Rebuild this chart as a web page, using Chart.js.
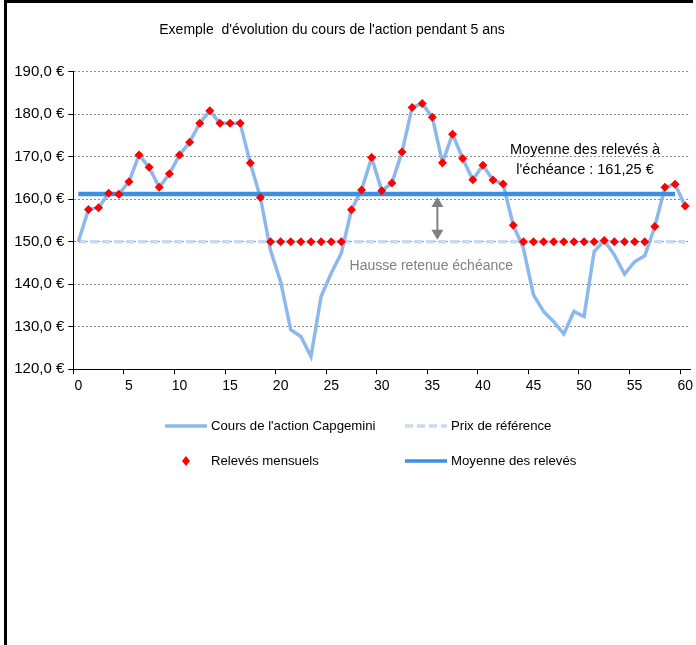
<!DOCTYPE html>
<html lang="fr">
<head>
<meta charset="utf-8">
<script src="https://cdn.jsdelivr.net/npm/chart.js@4.4.1/dist/chart.umd.min.js"></script>
<style>
  body { margin: 0; background: #fff; }
  canvas { position: absolute; left: 0; top: 0; }
  #cadre { position: absolute; left: 4px; top: 0; width: 689px; height: 645px;
           border-top: 3px solid #000; border-left: 3px solid #000;
           box-sizing: border-box; pointer-events: none; }
</style>
</head>
<body>
<canvas id="graphe" width="696" height="645"></canvas>
<div id="cadre"></div>
<script>
// mois 0 a 60
let mois = [0, 1, 2, 3, 4, 5, 6, 7, 8, 9, 10, 11, 12, 13, 14, 15, 16, 17, 18, 19, 20,
            21, 22, 23, 24, 25, 26, 27, 28, 29, 30, 31, 32, 33, 34, 35, 36, 37, 38, 39, 40,
            41, 42, 43, 44, 45, 46, 47, 48, 49, 50, 51, 52, 53, 54, 55, 56, 57, 58, 59, 60];

let cours = [150.0, 157.6, 158.0, 161.4, 161.2, 164.1, 170.4, 167.5, 162.8, 166.0, 170.4,
             173.4, 177.9, 180.8, 177.9, 177.9, 177.9, 168.5, 160.4, 148.0, 140.6,
             129.3, 127.7, 123.0, 137.1, 142.6, 147.3, 157.5, 162.2, 169.8, 162.0,
             163.8, 171.1, 181.6, 182.5, 179.3, 168.6, 175.3, 169.6, 164.6, 168.0,
             164.5, 163.6, 153.9, 148.5, 137.5, 133.6, 131.2, 128.3, 133.6, 132.4,
             147.7, 150.3, 146.9, 142.4, 145.3, 146.7, 153.6, 162.8, 163.5, 158.4];

// releves mensuels (mois 1 a 60), planches a 150
let releves = [null, 157.6, 158.0, 161.4, 161.2, 164.1, 170.4, 167.5, 162.8, 166.0, 170.4,
               173.4, 177.9, 180.8, 177.9, 177.9, 177.9, 168.5, 160.4, 150.0, 150.0,
               150.0, 150.0, 150.0, 150.0, 150.0, 150.0, 157.5, 162.2, 169.8, 162.0,
               163.8, 171.1, 181.6, 182.5, 179.3, 168.6, 175.3, 169.6, 164.6, 168.0,
               164.5, 163.6, 153.9, 150.0, 150.0, 150.0, 150.0, 150.0, 150.0, 150.0,
               150.0, 150.3, 150.0, 150.0, 150.0, 150.0, 153.6, 162.8, 163.5, 158.4];

let prixReference = 150;
let moyenneReleves = 161.25;
let finMoyenne = 59;

const police = "Arial, 'Liberation Sans', sans-serif";
Chart.defaults.font.family = police;
Chart.defaults.font.size = 14;
Chart.defaults.color = '#000';

const decor = {
  id: 'decor',
  afterDraw(chart) {
    const ctx = chart.ctx;
    const x = chart.scales.x, y = chart.scales.y;
    ctx.save();
    ctx.textBaseline = 'middle';
    ctx.textAlign = 'center';
    ctx.font = '14px ' + police;
    ctx.fillStyle = '#000';
    ctx.fillText("Exemple  d'évolution du cours de l'action pendant 5 ans", 332, 30);

    // texte moyenne
    ctx.font = '14.5px ' + police;
    ctx.fillText('Moyenne des relevés à', x.getPixelForValue(50.1), y.getPixelForValue(171.6));
    ctx.fillText("l'échéance : 161,25 €", x.getPixelForValue(50.1), y.getPixelForValue(166.9));

    ctx.font = '14px ' + police;
    ctx.fillStyle = '#808080';
    ctx.fillText('Hausse retenue échéance', x.getPixelForValue(34.9), y.getPixelForValue(144.3));

    // fleche double
    const xa = x.getPixelForValue(35.5);
    const yh = y.getPixelForValue(moyenneReleves) + 3;
    const yb = y.getPixelForValue(prixReference) - 2;
    ctx.strokeStyle = '#808080';
    ctx.lineWidth = 2;
    ctx.beginPath();
    ctx.moveTo(xa, yh + 8);
    ctx.lineTo(xa, yb - 8);
    ctx.stroke();
    ctx.beginPath();
    ctx.moveTo(xa, yh); ctx.lineTo(xa - 6, yh + 10); ctx.lineTo(xa + 6, yh + 10); ctx.closePath();
    ctx.moveTo(xa, yb); ctx.lineTo(xa - 6, yb - 10); ctx.lineTo(xa + 6, yb - 10); ctx.closePath();
    ctx.fill();

    // legende 2 x 2
    const cases = [{ds: 0, x: 165, y: 426}, {ds: 1, x: 405, y: 426},
                   {ds: 2, x: 165, y: 461}, {ds: 3, x: 405, y: 461}];
    ctx.textAlign = 'left';
    ctx.font = '13.2px ' + police;
    cases.forEach(c => {
      const d = chart.data.datasets[c.ds];
      if (d.showLine === false) {
        ctx.fillStyle = d.pointBackgroundColor;
        ctx.beginPath();
        ctx.moveTo(c.x + 21, c.y - 5); ctx.lineTo(c.x + 25, c.y);
        ctx.lineTo(c.x + 21, c.y + 5); ctx.lineTo(c.x + 17, c.y);
        ctx.closePath();
        ctx.fill();
      } else {
        ctx.strokeStyle = d.borderColor;
        ctx.lineWidth = 3.5;
        ctx.setLineDash(d.borderDash || []);
        ctx.beginPath();
        ctx.moveTo(c.x, c.y);
        ctx.lineTo(c.x + 42, c.y);
        ctx.stroke();
        ctx.setLineDash([]);
      }
      ctx.fillStyle = '#000';
      ctx.fillText(d.label, c.x + 46, c.y);
    });
    ctx.restore();
  }
};

new Chart(document.getElementById('graphe'), {
  type: 'line',
  data: {
    labels: mois,
    datasets: [
      {
        label: "Cours de l'action Capgemini",
        data: cours,
        borderColor: '#8db8ee',
        borderWidth: 3.5,
        pointRadius: 0,
        tension: 0,
        order: 2
      },
      {
        label: 'Prix de référence',
        data: mois.map(() => prixReference),
        borderColor: '#c6daf3',
        borderWidth: 3.5,
        borderDash: [8, 4],
        pointRadius: 0,
        order: 3
      },
      {
        label: 'Relevés mensuels',
        data: releves,
        showLine: false,
        pointStyle: 'rectRot',
        pointRadius: 4.5,
        pointBackgroundColor: '#ff0000',
        pointBorderColor: '#ff0000',
        pointBorderWidth: 0,
        order: 0
      },
      {
        label: 'Moyenne des relevés',
        data: mois.map(m => m <= finMoyenne ? moyenneReleves : null),
        borderColor: '#3b90e6',
        borderWidth: 4.5,
        pointRadius: 0,
        order: 1
      }
    ]
  },
  options: {
    responsive: false,
    animation: false,
    layout: { padding: { left: 0, right: 4.8, top: 71.7, bottom: 245.7 } },
    plugins: {
      legend: { display: false },
      title: { display: false },
      tooltip: { enabled: false }
    },
    scales: {
      x: {
        type: 'category',
        offset: true,
        grid: {
          offset: true,
          drawOnChartArea: false,
          tickLength: 5,
          tickColor: c => c.index % 5 === 0 ? '#000' : 'rgba(0,0,0,0)'
        },
        border: { color: '#000' },
        ticks: {
          autoSkip: false,
          maxRotation: 0,
          padding: 3,
          callback: (v, i) => i % 5 === 0 ? mois[i] : ''
        },
        afterFit: s => { s.height = 30; }
      },
      y: {
        min: 120,
        max: 190,
        ticks: {
          stepSize: 10,
          padding: 4,
          font: { size: 15 },
          callback: v => v.toFixed(1).replace('.', ',') + ' €'
        },
        grid: { color: '#8c8c8c', tickColor: '#000', tickLength: 5, tickBorderDash: [] },
        border: { color: '#000', dash: [2, 2] },
        afterFit: s => { s.width = 73.3; }
      }
    }
  },
  plugins: [decor]
});
</script>
</body>
</html>
